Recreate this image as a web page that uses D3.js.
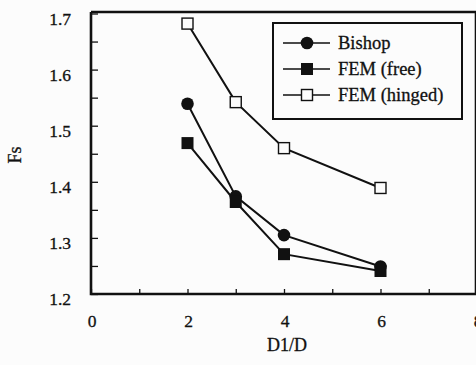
<!DOCTYPE html>
<html>
<head>
<meta charset="utf-8">
<script src="https://cdn.jsdelivr.net/npm/d3@7"></script>
<style>
  html, body { margin: 0; padding: 0; background: #fcfcfc; }
  svg { display: block; }
  text { stroke: #111; stroke-width: 0.3px; }
</style>
</head>
<body>
<svg id="chart" width="476" height="365"></svg>
<script>
// Safety factor Fs against depth ratio D1/D
const ratios = [2, 3, 4, 6];
const bishop = [1.539, 1.374, 1.305, 1.249];
const femFree = [1.469, 1.364, 1.271, 1.241];
const femHinged = [1.682, 1.542, 1.460, 1.389];
const seriesNames = ["Bishop", "FEM (free)", "FEM (hinged)"];
const xTicks = [0, 2, 4, 6, 8];
const yTicks = [1.2, 1.3, 1.4, 1.5, 1.6, 1.7];

const serif = "'Liberation Serif', 'DejaVu Serif', 'Times New Roman', serif";
const svg = d3.select("#chart").attr("font-family", serif);
const plotLeft = 91, plotRight = 477, plotTop = 12, plotBottom = 294;

const x = d3.scaleLinear().domain([0, 8]).range([plotLeft, plotRight]);
const y = d3.scaleLinear().domain([1.2, 1.7]).range([plotBottom, plotTop + 1.5]);

const ink = "#111";

// inward tick marks
const xAxis = d3.axisBottom(x).tickValues(d3.range(0, 9, 1)).tickSize(-5).tickFormat("");
const yAxis = d3.axisLeft(y).tickValues(d3.range(1.2, 1.7001, 0.05)).tickSize(-7).tickFormat("");
svg.append("g").attr("transform", `translate(0,${plotBottom})`).call(xAxis)
  .call(g => g.select(".domain").remove())
  .call(g => g.selectAll("line").attr("stroke", ink).attr("stroke-width", 1.3));
svg.append("g").attr("transform", `translate(${plotLeft},0)`).call(yAxis)
  .call(g => g.select(".domain").remove())
  .call(g => g.selectAll("line").attr("stroke", ink).attr("stroke-width", 1.3));

// frame
svg.append("path")
  .attr("d", `M${plotLeft},${plotTop} H476 M476,${plotTop} V${plotBottom} M${plotLeft},${plotTop} V${plotBottom} H476`)
  .attr("fill", "none").attr("stroke", ink).attr("stroke-width", 2.6);

// tick labels
svg.append("g").selectAll("text").data(xTicks).join("text")
  .attr("x", d => x(d) + 1).attr("y", 327)
  .attr("text-anchor", "middle").attr("font-size", 17.5).attr("fill", ink).text(d => d);
svg.append("g").selectAll("text").data(yTicks).join("text")
  .attr("x", 71).attr("y", d => y(d) + 11)
  .attr("text-anchor", "end").attr("font-size", 17.5).attr("fill", ink).text(d => d.toFixed(1));

// axis titles
svg.append("text").attr("x", 287).attr("y", 351).attr("text-anchor", "middle")
  .attr("font-size", 18).attr("fill", ink).text("D1/D");
svg.append("text").attr("transform", "translate(21,155) rotate(-90)")
  .attr("text-anchor", "middle").attr("font-size", 18).attr("fill", ink).text("Fs");

const line = d3.line().x(d => x(d[0])).y(d => y(d[1]));
const series = [
  { name: seriesNames[0], vals: bishop, shape: "circle" },
  { name: seriesNames[1], vals: femFree, shape: "filled" },
  { name: seriesNames[2], vals: femHinged, shape: "open" }
];

function marker(g, shape, cx, cy) {
  if (shape === "circle") {
    g.append("circle").attr("cx", cx).attr("cy", cy).attr("r", 6.3).attr("fill", ink);
  } else if (shape === "filled") {
    g.append("rect").attr("x", cx - 6).attr("y", cy - 6).attr("width", 12).attr("height", 12).attr("fill", ink);
  } else {
    g.append("rect").attr("x", cx - 5.5).attr("y", cy - 5.5).attr("width", 11).attr("height", 11)
      .attr("fill", "#fcfcfc").attr("stroke", ink).attr("stroke-width", 1.4);
  }
}

series.forEach(s => {
  const pts = ratios.map((r, i) => [r, s.vals[i]]);
  svg.append("path").datum(pts).attr("d", line)
    .attr("fill", "none").attr("stroke", ink).attr("stroke-width", 2);
  const g = svg.append("g");
  pts.forEach(p => marker(g, s.shape, x(p[0]), y(p[1])));
});

// legend
const lg = svg.append("g");
lg.append("rect").attr("x", 273).attr("y", 23).attr("width", 189).attr("height", 96)
  .attr("fill", "#fcfcfc").attr("stroke", ink).attr("stroke-width", 2);
series.forEach((s, i) => {
  const cy = 43 + i * 26;
  lg.append("line").attr("x1", 283).attr("x2", 330).attr("y1", cy).attr("y2", cy)
    .attr("stroke", ink).attr("stroke-width", 1.6);
  marker(lg, s.shape, 307, cy);
  lg.append("text").attr("x", 338).attr("y", cy + 6).attr("font-size", 18.5).attr("fill", ink).text(s.name);
});
</script>
</body>
</html>
